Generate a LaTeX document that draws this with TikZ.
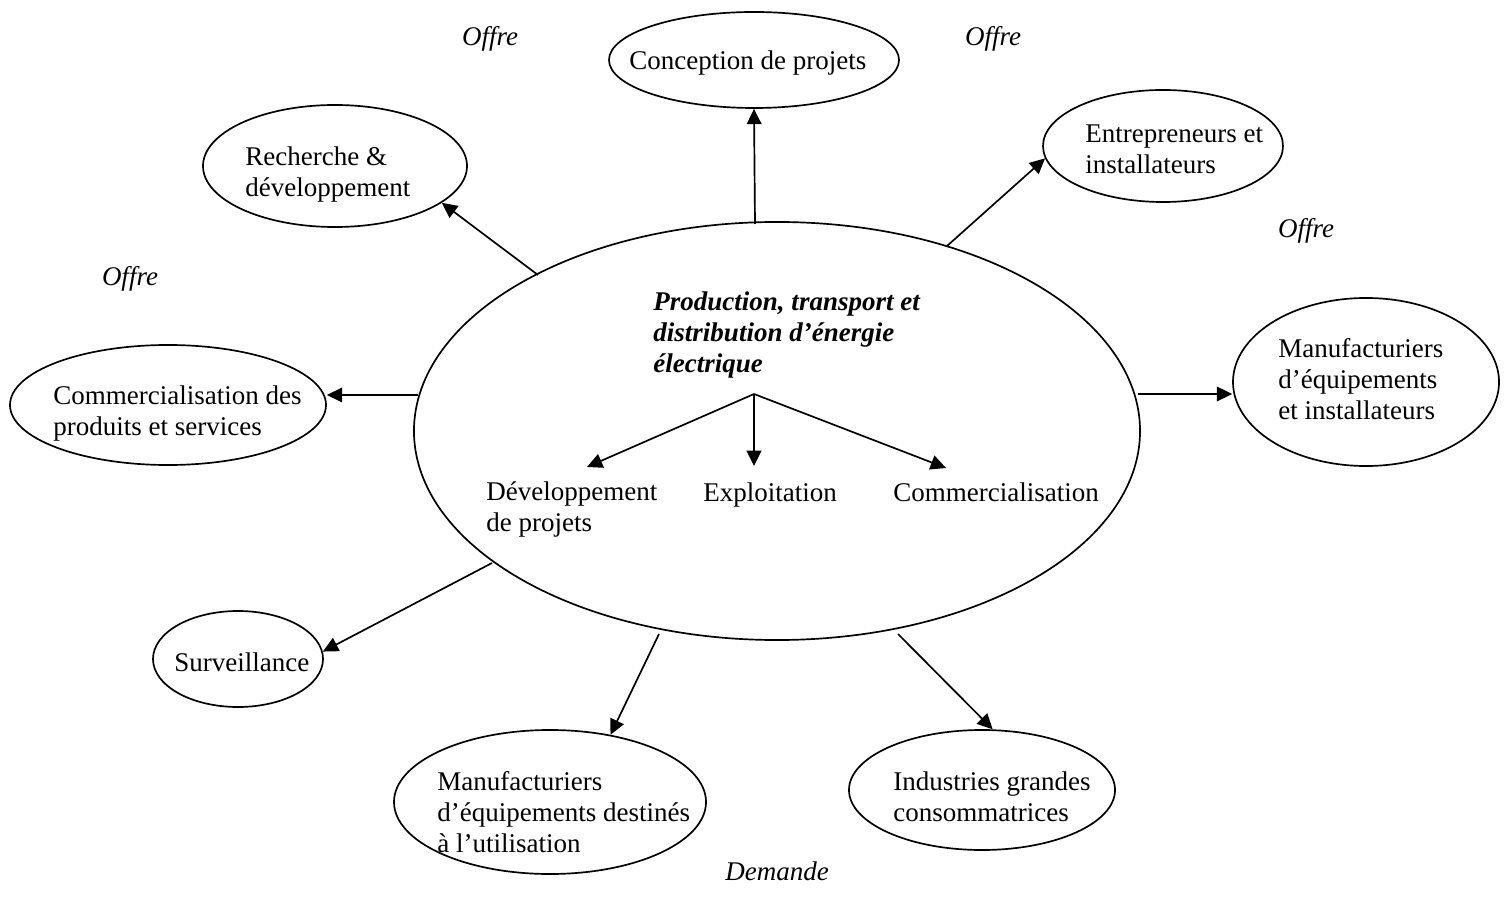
\documentclass[tikz,border=0pt]{standalone}
\usepackage{fontspec}
\setmainfont{Liberation Serif}
\usetikzlibrary{arrows.meta,shapes.geometric}
\begin{document}
\begin{tikzpicture}[x=0.4444pt,y=-0.4444pt,
  font=\fontsize{12}{13.8}\selectfont,
  el/.style 2 args={ellipse,draw,line width=0.75pt,minimum width=#1*0.8889pt,minimum height=#2*0.8889pt,inner sep=0pt},
  txt/.style={anchor=west,inner sep=0pt,align=left,yshift=-1.3pt},
  lbl/.style={inner sep=0pt,yshift=-1.1pt,font=\fontsize{12}{13.8}\selectfont\itshape},
  arr/.style={line width=0.75pt,-{Triangle[length=6.8pt,width=6.5pt]}}]
\useasboundingbox (0,0) rectangle (1506,911);
% ellipses
\node[el={363}{209}] (main) at (777,431) {};
\node[el={145}{48}] (conc) at (754,60) {};
\node[el={132}{61}] (rd) at (335,166) {};
\node[el={120}{56}] (ent) at (1163,146) {};
\node[el={133}{84}] (mr) at (1366,382) {};
\node[el={158}{60}] (cps) at (168,405) {};
\node[el={85}{48}] (surv) at (238,659) {};
\node[el={156}{72}] (md) at (550,802) {};
\node[el={133}{60}] (ind) at (982,790) {};
% texts
\node[txt] (tconc) at (629,60) {\strut Conception de projets};
\node[txt] (trd) at (245,172) {\strut Recherche \&\\\strut développement};
\node[txt] (tent) at (1085,149) {\strut Entrepreneurs et\\\strut installateurs};
\node[txt] (tmr) at (1278,379) {\strut Manufacturiers\\\strut d’équipements\\\strut et installateurs};
\node[txt] (tcps) at (53,411) {\strut Commercialisation des\\\strut produits et services};
\node[txt] (tsurv) at (174,662) {\strut Surveillance};
\node[txt] (tmd) at (437,812) {\strut Manufacturiers\\\strut d’équipements destinés\\\strut à l’utilisation};
\node[txt] (tind) at (893,797) {\strut Industries grandes\\\strut consommatrices};
\node[txt,font=\fontsize{12}{13.8}\selectfont\bfseries\itshape] (title) at (653,332) {\strut Production, transport et\\\strut distribution d’énergie\\\strut électrique};
\node[txt] (tdev) at (486,507) {\strut Développement\\\strut de projets};
\node[txt] (texp) at (703,492) {\strut Exploitation};
\node[txt] (tcom) at (893,492) {\strut Commercialisation};
\node[lbl] (o1) at (490,37) {\strut Offre};
\node[lbl] (o2) at (993,37) {\strut Offre};
\node[lbl] (o3) at (1306,229) {\strut Offre};
\node[lbl] (o4) at (130,277) {\strut Offre};
\node[lbl] (dem) at (777,872) {\strut Demande};
% internal arrows
\coordinate (br) at (754,394);
\coordinate (bdev) at (587,467);
\coordinate (bexp) at (754,466);
\coordinate (bcom) at (946,468);
\draw[arr] (br) -- (bdev);
\draw[arr] (br) -- (bexp);
\draw[arr] (br) -- (bcom);
% outer arrows
\coordinate (sconc) at (755,224);
\coordinate (srd) at (538,275);
\coordinate (sent) at (947,246);
\coordinate (smr) at (1138,394);
\coordinate (scps) at (418,395);
\coordinate (ssurv) at (492,563);
\coordinate (smd) at (659,634);
\coordinate (sind) at (898,634);
\draw[arr] (sconc) -- (conc.south);
\draw[arr] (srd) -- (rd.-19);
\draw[arr] (sent) -- (ent.186);
\draw[arr] (smr) -- (smr -| mr.west);
\draw[arr] (scps) -- (scps -| cps.east);
\draw[arr] (ssurv) -- (surv.5);
\draw[arr] (smd) -- (md.48);
\draw[arr] (sind) -- (ind.80);
\end{tikzpicture}
\end{document}
